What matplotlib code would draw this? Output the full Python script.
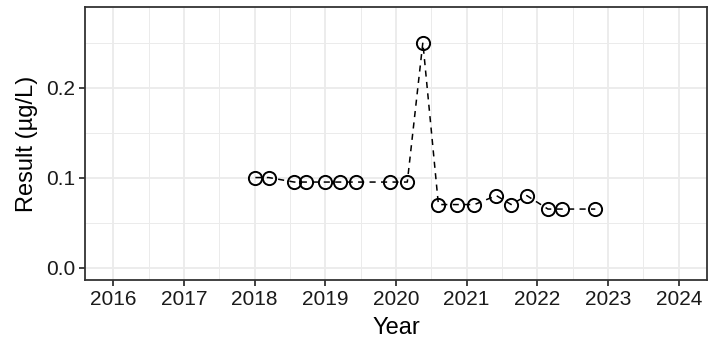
import matplotlib
matplotlib.use("Agg")
import matplotlib.pyplot as plt
from matplotlib.ticker import MultipleLocator

plt.rcParams['font.family'] = ['Liberation Sans', 'DejaVu Sans']

# Sample dates (decimal years) and measured results
years = [2018.01, 2018.20, 2018.56, 2018.73, 2019.00, 2019.21, 2019.44,
         2019.92, 2020.16, 2020.38, 2020.60, 2020.87, 2021.11, 2021.42,
         2021.63, 2021.85, 2022.15, 2022.35, 2022.82]
results = [0.100, 0.100, 0.095, 0.095, 0.095, 0.095, 0.095,
           0.095, 0.095, 0.250, 0.070, 0.070, 0.070, 0.080,
           0.070, 0.080, 0.065, 0.065, 0.065]

x_ticks = list(range(2016, 2025))
y_ticks = [0.0, 0.1, 0.2]

fig = plt.figure(figsize=(7.17, 3.46), dpi=100)
ax = fig.add_axes([0.1186, 0.1908, 0.986 - 0.1186, 0.9798 - 0.1908])

ax.plot(years, results, linestyle=(0, (4, 3.5)), color='black', linewidth=1.1,
        zorder=3)
ax.plot(years, results, linestyle='none', marker='o', markersize=9.5,
        markerfacecolor='none', markeredgecolor='black', markeredgewidth=1.4,
        zorder=4)

xmin, xmax = 2016, 2024
ymin, ymax = 0.0, 0.2757
ax.set_xlim(xmin - 0.05 * (xmax - xmin), xmax + 0.05 * (xmax - xmin))
ax.set_ylim(ymin - 0.05 * (ymax - ymin), ymax + 0.05 * (ymax - ymin))

ax.set_xticks(x_ticks)
ax.set_xticklabels([str(t) for t in x_ticks])
ax.set_yticks(y_ticks)
ax.set_yticklabels([f"{t:.1f}" for t in y_ticks])
ax.xaxis.set_minor_locator(MultipleLocator(0.5))
ax.yaxis.set_minor_locator(MultipleLocator(0.05))

ax.grid(which='major', color='#EBEBEB', linewidth=1.3, zorder=0)
ax.grid(which='minor', color='#EBEBEB', linewidth=0.7, zorder=0)
ax.set_axisbelow(True)

for s in ax.spines.values():
    s.set_color('#333333')
    s.set_linewidth(1.3)

ax.tick_params(which='major', length=4, width=1.3, color='#333333',
               labelsize=15, labelcolor='#1a1a1a', pad=3)
ax.tick_params(which='minor', length=0)

ax.set_xlabel('Year', fontsize=17, color='black', labelpad=6)
ax.set_ylabel('Result (µg/L)', fontsize=17, color='black', labelpad=6)

fig.savefig('out.png', dpi=100, facecolor='white')
